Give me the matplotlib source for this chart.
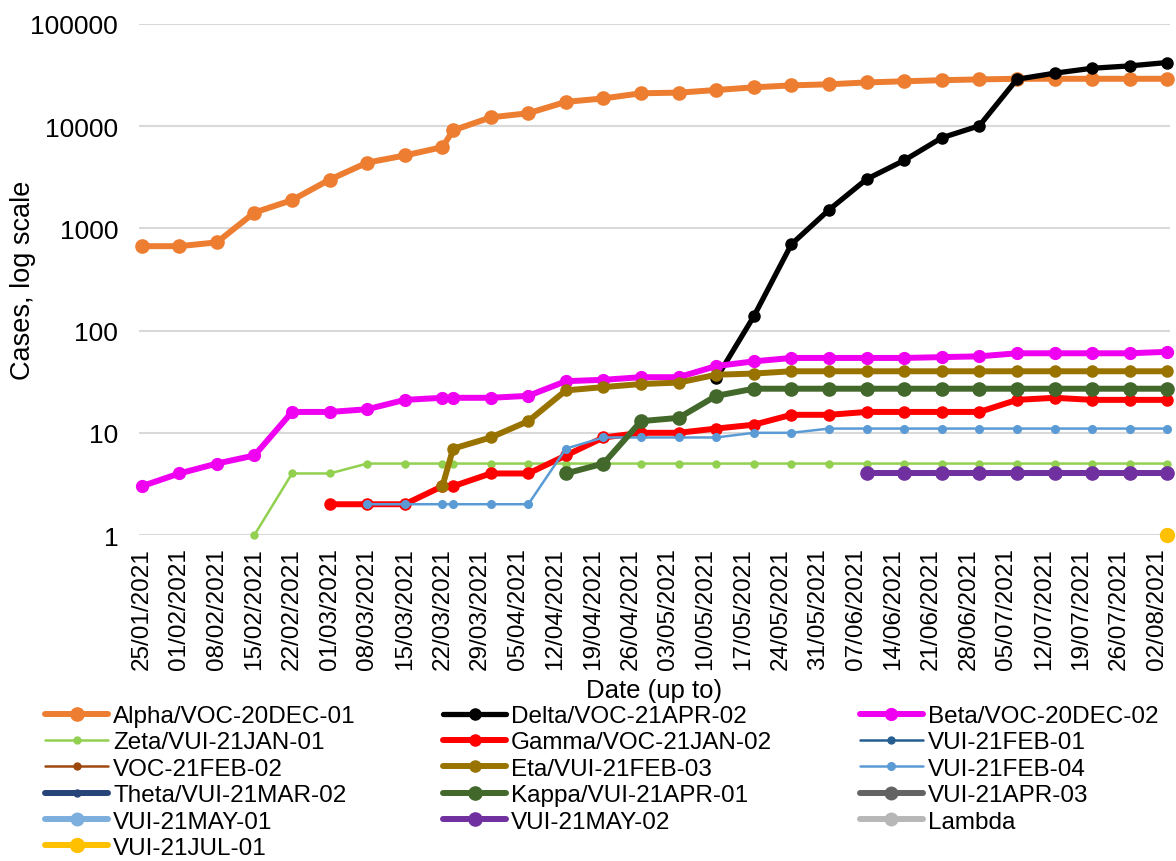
import numpy as np
import pandas as pd
import matplotlib
matplotlib.use('Agg')
import matplotlib.pyplot as plt

plt.rcParams['font.family'] = ['Liberation Sans', 'DejaVu Sans']

# ---------------- data ----------------
DATES = ['25/01/2021', '01/02/2021', '08/02/2021', '15/02/2021', '22/02/2021',
         '01/03/2021', '08/03/2021', '15/03/2021', '22/03/2021', '24/03/2021',
         '31/03/2021', '07/04/2021', '14/04/2021', '21/04/2021', '28/04/2021',
         '05/05/2021', '12/05/2021', '19/05/2021', '26/05/2021', '02/06/2021',
         '09/06/2021', '16/06/2021', '23/06/2021', '30/06/2021', '07/07/2021',
         '14/07/2021', '21/07/2021', '28/07/2021', '04/08/2021']
N = None

alpha = [670, 670, 730, 1430, 1890, 3000, 4400, 5170, 6240, 9100,
         12200, 13400, 17300, 18700, 21000, 21300, 22600, 24000, 25100, 25700,
         26800, 27500, 28200, 28700, 29100, 29100, 29100, 29100, 29100]
delta = [N]*16 + [34, 138, 700, 1520, 3030, 4630, 7700, 10100, 28800,
                  33000, 36900, 38900, 42000]
beta = [3, 4, 5, 6, 16, 16, 17, 21, 22, 22, 22, 23, 32, 33, 35, 35, 45, 50,
        54, 54, 54, 54, 55, 56, 60, 60, 60, 60, 62]
zeta = [N, N, N, 1, 4, 4] + [5]*23
gamma = [N]*5 + [2, 2, 2, 3, 3, 4, 4, 6, 9, 10, 10, 11, 12, 15, 15, 16, 16,
                 16, 16, 21, 22, 21, 21, 21]
vui_21feb_01 = [N]*29
voc_21feb_02 = [N]*29
eta = [N]*8 + [3, 7, 9, 13, 26, 28, 30, 31, 37, 38, 40, 40, 40, 40, 40, 40,
               40, 40, 40, 40, 40]
vui_21feb_04 = [N]*6 + [2, 2, 2, 2, 2, 2, 7, 9, 9, 9, 9, 10, 10] + [11]*10
theta = [N]*29
kappa = [N]*12 + [4, 5, 13, 14, 23] + [27]*12
vui_21apr_03 = [N]*29
vui_21may_01 = [N]*29
vui_21may_02 = [N]*20 + [4]*9
lambda_ = [N]*29
vui_21jul_01 = [N]*28 + [1]

SERIES = [
    ('Alpha/VOC-20DEC-01', alpha),
    ('Delta/VOC-21APR-02', delta),
    ('Beta/VOC-20DEC-02', beta),
    ('Zeta/VUI-21JAN-01', zeta),
    ('Gamma/VOC-21JAN-02', gamma),
    ('VUI-21FEB-01', vui_21feb_01),
    ('VOC-21FEB-02', voc_21feb_02),
    ('Eta/VUI-21FEB-03', eta),
    ('VUI-21FEB-04', vui_21feb_04),
    ('Theta/VUI-21MAR-02', theta),
    ('Kappa/VUI-21APR-01', kappa),
    ('VUI-21APR-03', vui_21apr_03),
    ('VUI-21MAY-01', vui_21may_01),
    ('VUI-21MAY-02', vui_21may_02),
    ('Lambda', lambda_),
    ('VUI-21JUL-01', vui_21jul_01),
]

# colour, line width (pt), marker size (pt)
STYLES = {
    'Alpha/VOC-20DEC-01': ('#ED7D31', 4.3, 9.5),
    'Delta/VOC-21APR-02': ('#000000', 3.8, 8.0),
    'Beta/VOC-20DEC-02': ('#F000F0', 4.3, 8.5),
    'Zeta/VUI-21JAN-01': ('#92D050', 1.8, 5.0),
    'Gamma/VOC-21JAN-02': ('#FF0000', 4.3, 8.0),
    'VUI-21FEB-01': ('#255E91', 1.8, 5.0),
    'VOC-21FEB-02': ('#9E480E', 1.8, 5.0),
    'Eta/VUI-21FEB-03': ('#997300', 4.3, 8.0),
    'VUI-21FEB-04': ('#5B9BD5', 1.8, 5.5),
    'Theta/VUI-21MAR-02': ('#264478', 4.3, 5.0),
    'Kappa/VUI-21APR-01': ('#43682B', 4.3, 9.5),
    'VUI-21APR-03': ('#636363', 4.3, 9.0),
    'VUI-21MAY-01': ('#7CAFDD', 4.3, 9.0),
    'VUI-21MAY-02': ('#7030A0', 4.3, 9.5),
    'Lambda': ('#B7B7B7', 4.3, 9.0),
    'VUI-21JUL-01': ('#FFC000', 4.3, 10.0),
}

# ---------------- plot ----------------
x = pd.to_datetime(DATES, dayfirst=True)
fig = plt.figure(figsize=(11.76, 8.62), dpi=100)
ax = fig.add_axes([139/1176, 1 - 536/862, 1031/1176, 511/862])

handles = []
for name, vals in SERIES:
    col, lw, ms = STYLES[name]
    y = np.array([np.nan if v is None else v for v in vals], dtype=float)
    h, = ax.plot(x, y, color=col, lw=lw, marker='o', ms=ms, mec=col, mfc=col,
                 label=name, solid_capstyle='round', solid_joinstyle='round',
                 clip_on=False)
    handles.append(h)

ax.set_yscale('log')
ax.set_ylim(1, 100000)
ax.set_yticks([1, 10, 100, 1000, 10000, 100000])
ax.set_yticklabels(['1', '10', '100', '1000', '10000', '100000'])
ax.yaxis.set_minor_locator(matplotlib.ticker.NullLocator())

ticks = pd.date_range('2021-01-25', '2021-08-02', freq='7D')
ax.set_xticks(ticks)
ax.set_xticklabels([t.strftime('%d/%m/%Y') for t in ticks], rotation=90)
ax.set_xlim(x[0] - pd.Timedelta(hours=12), x[-1] + pd.Timedelta(hours=12))

ax.grid(axis='y', color='#D9D9D9', lw=1.5)
ax.set_axisbelow(True)
for s in ax.spines.values():
    s.set_visible(False)
ax.tick_params(axis='both', length=0, colors='black')
ax.tick_params(axis='x', labelsize=17.5, pad=9)
ax.tick_params(axis='y', labelsize=19, pad=15)

ax.set_ylabel('Cases, log scale', fontsize=19.5)
ax.yaxis.set_label_coords(-0.100, 0.5)
ax.set_xlabel('Date (up to)', fontsize=18.5)
ax.xaxis.set_label_coords(0.5, -0.28)

# legend is filled column by column, so reorder to read row by row like Excel
ncol = 3
order = [i for c in range(ncol) for i in range(c, len(handles), ncol)]
fig.legend([handles[i] for i in order], [SERIES[i][0] for i in order],
           loc='upper left', bbox_to_anchor=(45/1176, 1 - 706/862), ncol=ncol,
           frameon=False, fontsize=17.5, borderpad=0, borderaxespad=0,
           handlelength=2.6, handletextpad=0.2, columnspacing=3.6,
           labelspacing=0.18, numpoints=1)

fig.savefig('out.png', dpi=100)
